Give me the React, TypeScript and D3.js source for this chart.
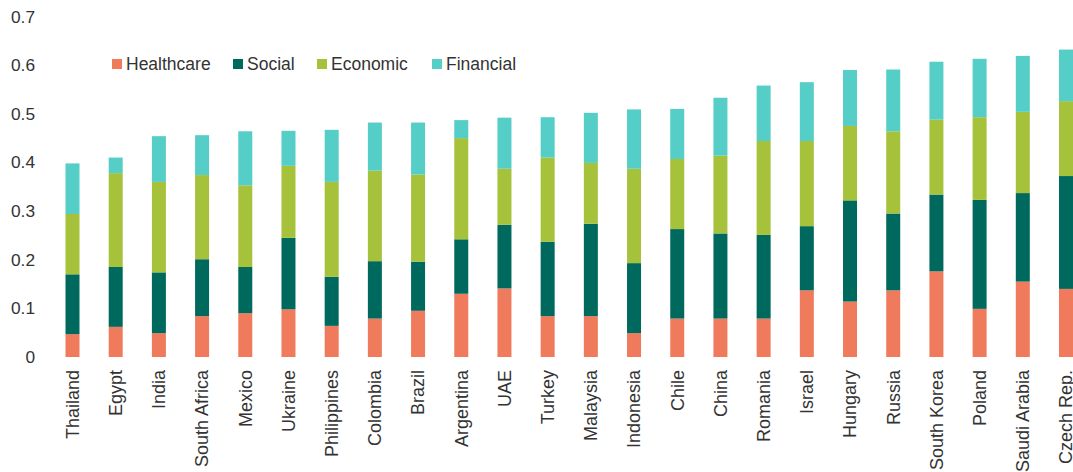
import React from "react";
import * as d3 from "d3";

const countries = ["Thailand","Egypt","India","South Africa","Mexico","Ukraine","Philippines","Colombia","Brazil","Argentina","UAE","Turkey","Malaysia","Indonesia","Chile","China","Romania","Israel","Hungary","Russia","South Korea","Poland","Saudi Arabia","Czech Rep."];
const healthcare = [0.047,0.062,0.049,0.084,0.090,0.098,0.064,0.079,0.095,0.130,0.141,0.084,0.084,0.049,0.079,0.079,0.079,0.137,0.114,0.137,0.176,0.099,0.155,0.140];
const social = [0.123,0.123,0.125,0.117,0.095,0.147,0.101,0.118,0.101,0.112,0.131,0.153,0.190,0.144,0.184,0.175,0.172,0.132,0.208,0.158,0.158,0.224,0.182,0.232];
const economic = [0.124,0.193,0.186,0.173,0.168,0.148,0.195,0.186,0.179,0.208,0.115,0.173,0.125,0.194,0.144,0.160,0.193,0.175,0.153,0.169,0.154,0.170,0.167,0.154];
const financial = [0.104,0.032,0.094,0.082,0.111,0.072,0.107,0.099,0.107,0.037,0.105,0.083,0.103,0.122,0.103,0.119,0.114,0.121,0.115,0.127,0.119,0.120,0.115,0.106];
const seriesNames = ["Healthcare","Social","Economic","Financial"];
const yTicks = [0,0.1,0.2,0.3,0.4,0.5,0.6,0.7];

const colors = ["#F07B5C","#00695D","#A6C23A","#54CEC6"];
const W = 1073, H = 472;
const font = "'Liberation Sans', Arial, sans-serif";
const textColor = "#333333";

export default function App() {
  const rows = countries.map((c, i) => ({
    country: c,
    Healthcare: healthcare[i],
    Social: social[i],
    Economic: economic[i],
    Financial: financial[i],
  }));
  const stacked = d3.stack<any>().keys(seriesNames)(rows);
  const x = d3.scalePoint<string>().domain(countries).range([72.5, 1066]);
  const y = d3.scaleLinear().domain([0, 0.7]).range([357, 16.5]);
  const bw = 14;
  const legendX = [112, 233, 317, 432];

  return (
    <svg width={W} height={H} style={{ position: "absolute", left: 0, top: 0, background: "#fff" }} fontFamily={font}>
      {stacked.map((layer, si) => (
        <g key={seriesNames[si]} fill={colors[si]}>
          {layer.map((d, i) => (
            <rect key={i} x={(x(countries[i]) as number) - bw / 2} y={y(d[1])} width={bw} height={y(d[0]) - y(d[1])} />
          ))}
        </g>
      ))}
      {yTicks.map((t) => (
        <text key={t} x={35} y={y(t)} dy="0.35em" textAnchor="end" fontSize={17.3} fill={textColor}>
          {d3.format("")(t)}
        </text>
      ))}
      {countries.map((c) => (
        <text key={c} transform={`translate(${x(c)},370) rotate(-90)`} dy="0.35em" textAnchor="end" fontSize={18} fill={textColor}>
          {c}
        </text>
      ))}
      {seriesNames.map((s, i) => (
        <g key={s} transform={`translate(${legendX[i]},64)`}>
          <rect x={0} y={-5} width={10} height={10} fill={colors[i]} />
          <text x={14} y={0} dy="0.35em" fontSize={17.5} fill={textColor}>{s}</text>
        </g>
      ))}
    </svg>
  );
}
